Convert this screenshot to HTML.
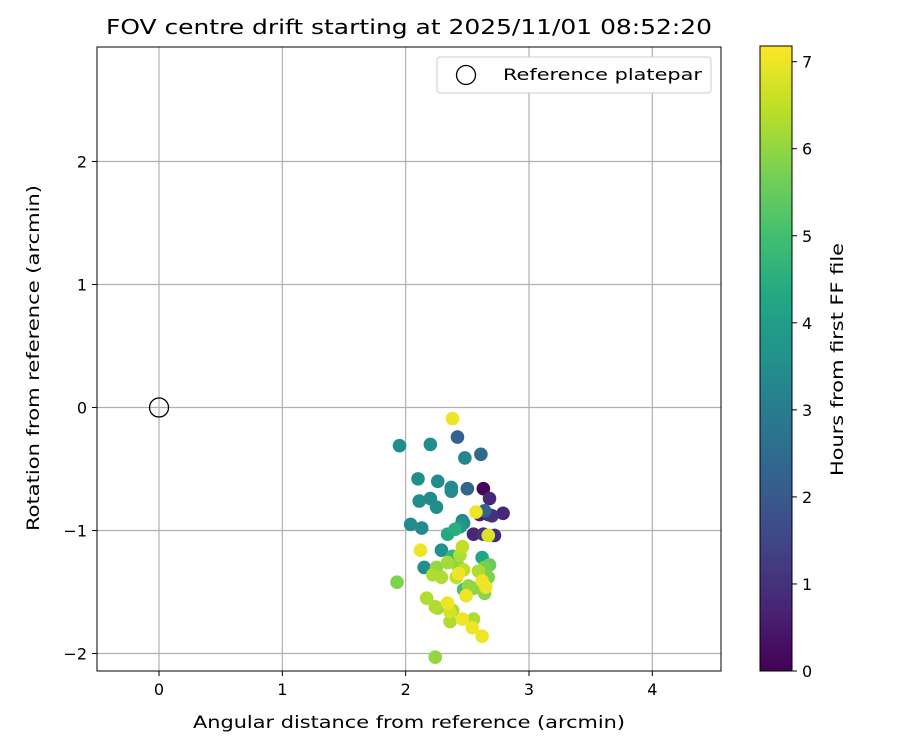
<!DOCTYPE html>
<html><head><meta charset="utf-8"><style>
body{margin:0;background:#fff;}
svg text{font-family:"DejaVu Sans","Liberation Sans",sans-serif;fill:#000;}
</style></head><body>
<svg id="chart" width="900" height="750" xmlns="http://www.w3.org/2000/svg">
<defs><linearGradient id="vir" x1="0" y1="1" x2="0" y2="0">
<stop offset="0" stop-color="#440154"/><stop offset="0.1" stop-color="#482475"/><stop offset="0.2" stop-color="#414487"/><stop offset="0.3" stop-color="#355f8d"/><stop offset="0.4" stop-color="#2a788e"/><stop offset="0.5" stop-color="#21918c"/><stop offset="0.6" stop-color="#22a884"/><stop offset="0.7" stop-color="#44bf70"/><stop offset="0.8" stop-color="#7ad151"/><stop offset="0.9" stop-color="#bddf26"/><stop offset="1" stop-color="#fde725"/>
</linearGradient></defs>
<g id="grid"></g>
<g id="ticks"></g>
<g id="marks"></g>
<rect x="97" y="47" width="624" height="624" fill="none" stroke="#000" stroke-width="1"/>
<text x="106" y="34" font-size="20" textLength="606" lengthAdjust="spacingAndGlyphs">FOV centre drift starting at 2025/11/01 08:52:20</text>
<text x="193" y="728" font-size="17" textLength="432" lengthAdjust="spacingAndGlyphs">Angular distance from reference (arcmin)</text>
<text transform="translate(39,531) rotate(-90)" font-size="17" textLength="346" lengthAdjust="spacingAndGlyphs">Rotation from reference (arcmin)</text>
<g>
<rect x="437" y="57" width="274" height="36" rx="3" fill="#fff" stroke="#ccc"/>
<circle cx="466" cy="75" r="9.5" fill="none" stroke="#000" stroke-width="1.3"/>
<text x="503" y="80" font-size="16" textLength="199" lengthAdjust="spacingAndGlyphs">Reference platepar</text>
</g>
<g>
<rect x="760" y="46" width="32" height="625" fill="url(#vir)" stroke="#000" stroke-width="1"/>
<g id="cbticks"></g>
<text transform="translate(843,476) rotate(-90)" font-size="17" textLength="233" lengthAdjust="spacingAndGlyphs">Hours from first FF file</text>
</g>
</svg>
<script>
const xs=[2.38,1.95,2.20,2.42,2.48,2.61,2.10,2.26,2.37,2.37,2.50,2.63,2.68,2.11,2.20,2.25,2.04,2.13,2.46,2.47,2.64,2.60,2.67,2.79,2.70,2.57,2.55,2.63,2.72,2.67,2.44,2.34,2.40,2.12,2.29,2.38,2.46,2.44,2.62,2.68,2.15,2.25,2.34,2.42,2.22,2.29,2.41,2.43,2.47,2.59,2.64,2.67,2.62,2.47,2.51,2.65,2.64,1.93,2.17,2.24,2.34,2.26,2.38,2.55,2.49,2.36,2.46,2.55,2.54,2.62,2.24,2.36];
const ys=[-0.09,-0.31,-0.30,-0.24,-0.41,-0.38,-0.58,-0.60,-0.65,-0.68,-0.66,-0.66,-0.74,-0.76,-0.74,-0.81,-0.95,-0.98,-0.92,-0.94,-0.84,-0.87,-0.87,-0.86,-0.88,-0.85,-1.03,-1.03,-1.04,-1.04,-0.97,-1.03,-0.99,-1.16,-1.16,-1.21,-1.13,-1.20,-1.22,-1.28,-1.30,-1.30,-1.26,-1.28,-1.36,-1.38,-1.38,-1.35,-1.32,-1.33,-1.30,-1.38,-1.41,-1.48,-1.45,-1.46,-1.51,-1.42,-1.55,-1.62,-1.59,-1.63,-1.65,-1.47,-1.53,-1.74,-1.72,-1.72,-1.79,-1.86,-2.03,-1.66];
const hours=[7.0,3.5,3.5,2.2,3.3,2.5,3.5,3.4,3.4,3.4,2.3,0.1,0.8,3.5,3.4,3.5,3.4,3.4,3.3,3.5,2.3,0.6,0.8,0.8,1.0,7.0,0.8,1.0,0.9,6.8,3.8,4.3,4.5,7.0,3.6,4.7,6.5,6.3,4.2,5.5,3.5,6.0,6.2,6.0,6.3,6.3,6.5,7.0,6.5,6.3,5.7,5.8,7.0,5.0,6.0,7.0,5.9,5.8,6.3,6.3,7.0,6.2,6.2,5.9,7.0,6.3,7.0,6.3,7.0,7.0,6.0,6.7];
const xTicks=[0,1,2,3,4];
const yTicks=[-2,-1,0,1,2];
const cbTicks=[0,1,2,3,4,5,6,7];
const X0=-0.503,X1=4.557,Y0=-2.142,Y1=2.931,HMAX=7.18;
const sx=v=>97+(v-X0)/(X1-X0)*624;
const sy=v=>671-(v-Y0)/(Y1-Y0)*624;
const cy=h=>671-h/HMAX*625;
const NS="http://www.w3.org/2000/svg";
function mk(t,a,p){const e=document.createElementNS(NS,t);for(const k in a)e.setAttribute(k,a[k]);p.appendChild(e);return e;}
const vir=[[68,1,84],[72,36,117],[65,68,135],[53,95,141],[42,120,142],[33,145,140],[34,168,132],[68,191,112],[122,209,81],[189,223,38],[253,231,37]];
function col(h){let t=Math.max(0,Math.min(1,h/HMAX))*(vir.length-1);const i=Math.min(Math.floor(t),vir.length-2),f=t-i;const c=vir[i].map((v,k)=>Math.round(v+(vir[i+1][k]-v)*f));return`rgb(${c})`;}
const grid=document.getElementById('grid'),ticks=document.getElementById('ticks'),marks=document.getElementById('marks'),cbt=document.getElementById('cbticks');
xTicks.forEach(v=>{const x=sx(v);
const g=mk('line',{x1:x,x2:x,y1:47,y2:671,stroke:'#b0b0b0','stroke-width':1.2},grid);


mk('line',{x1:x,x2:x,y1:671,y2:676,stroke:'#000'},ticks);
const t=mk('text',{x:x,y:695,'font-size':16,'text-anchor':'middle'},ticks);t.textContent=v;

});
yTicks.forEach(v=>{const y=sy(v);
const g=mk('line',{x1:97,x2:721,y1:y,y2:y,stroke:'#b0b0b0','stroke-width':1.2},grid);


mk('line',{x1:92,x2:97,y1:y,y2:y,stroke:'#000'},ticks);
const t=mk('text',{x:87,y:y+6,'font-size':16,'text-anchor':'end'},ticks);t.textContent=v<0?'\u2212'+(-v):v;

});
cbTicks.forEach(v=>{const y=cy(v);
mk('line',{x1:792,x2:797,y1:y,y2:y,stroke:'#000'},cbt);
const t=mk('text',{x:802,y:y+6,'font-size':16},cbt);t.textContent=v;

});
const ref=mk('circle',{cx:sx(0),cy:sy(0),r:9.5,fill:'none',stroke:'#000','stroke-width':1.3},marks);


const idx=hours.map((h,i)=>i).sort((a,b)=>hours[a]-hours[b]);
idx.forEach(i=>{const c=mk('circle',{cx:sx(xs[i]),cy:sy(ys[i]),r:6.8,fill:col(hours[i])},marks);

});
</script>
</body></html>
